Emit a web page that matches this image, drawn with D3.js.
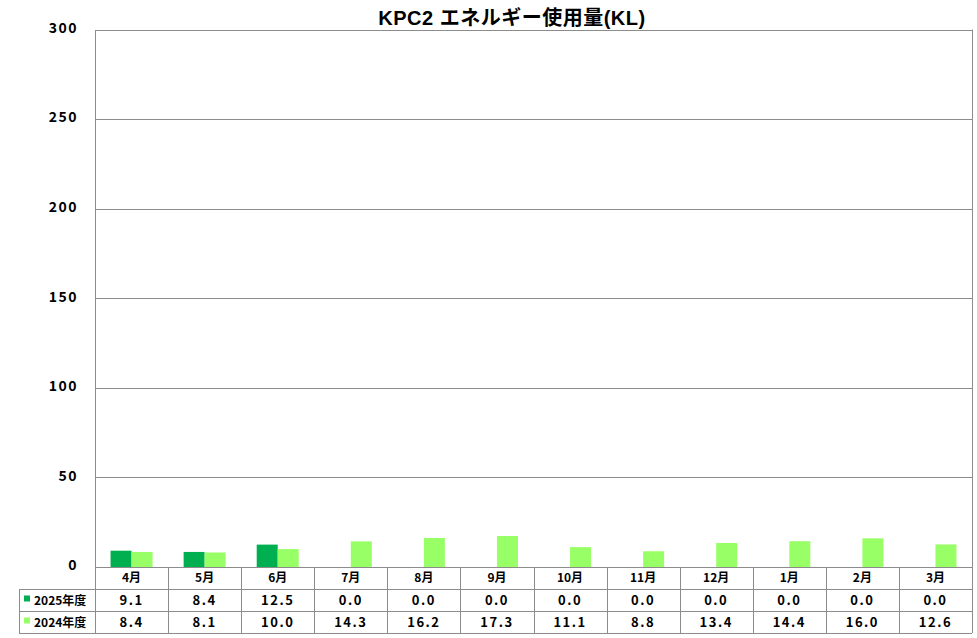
<!DOCTYPE html>
<html>
<head>
<meta charset="utf-8">
<script src="https://cdn.jsdelivr.net/npm/d3@7"></script>
<style>
  body { margin: 0; background: #fff; }
  text { font-family: "Noto Sans CJK JP", "Noto Sans", sans-serif; font-weight: 700; fill: #000; }
</style>
</head>
<body>
<div id="chart"></div>
<script>
// Chart data
const months = ["4月", "5月", "6月", "7月", "8月", "9月", "10月", "11月", "12月", "1月", "2月", "3月"];
const fy2025 = [9.1, 8.4, 12.5, 0.0, 0.0, 0.0, 0.0, 0.0, 0.0, 0.0, 0.0, 0.0];
const fy2024 = [8.4, 8.1, 10.0, 14.3, 16.2, 17.3, 11.1, 8.8, 13.4, 14.4, 16.0, 12.6];
const seriesNames = ["2025年度", "2024年度"];
const yTicks = [0, 50, 100, 150, 200, 250, 300];

const width = 977, height = 638;
const margin = { left: 95, right: 5, top: 29.5, plotBottom: 567 };
const rowH = 22;
const tableLeft = 19;
const colors = ["#00B050", "#99FF66"];
const gridColor = "#8c8c8c";

const svg = d3.select("#chart")
    .append("svg")
    .attr("width", width)
    .attr("height", height);

// Scales
const x = d3.scaleBand()
    .domain(months)
    .range([margin.left, width - margin.right]);

const y = d3.scaleLinear()
    .domain([0, 300])
    .range([margin.plotBottom, margin.top]);

const inner = d3.scaleBand()
    .domain(seriesNames)
    .range([0, 42]);

// Title
svg.append("text")
    .attr("x", 512)
    .attr("y", 25)
    .attr("text-anchor", "middle")
    .style("font-family", "\"Liberation Sans\", \"Noto Sans CJK JP\", sans-serif")
    .style("font-size", "20px")
    .style("letter-spacing", "0.5px")
    .text("KPC2 エネルギー使用量(KL)");

// Gridlines
svg.append("g")
    .selectAll("line")
    .data(yTicks)
    .enter()
    .append("line")
    .attr("x1", margin.left)
    .attr("x2", width - margin.right)
    .attr("y1", d => Math.round(y(d)) + 0.5)
    .attr("y2", d => Math.round(y(d)) + 0.5)
    .attr("stroke", gridColor)
    .attr("stroke-width", 1);

// Y axis with labels
const yAxis = d3.axisLeft(y)
    .tickValues(yTicks)
    .tickSize(0)
    .tickPadding(17);

const yg = svg.append("g")
    .attr("transform", `translate(${margin.left},0)`)
    .call(yAxis);
yg.select(".domain").attr("stroke", gridColor);
yg.selectAll("text")
    .style("font-size", "14px")
    .style("font-family", "\"Noto Sans CJK JP\", sans-serif")
    .style("font-weight", "700")
    .style("letter-spacing", "1.5px")
    .attr("dy", "0.2em");

// Plot right border
svg.append("line")
    .attr("x1", width - margin.right + 0.5)
    .attr("x2", width - margin.right + 0.5)
    .attr("y1", margin.top)
    .attr("y2", margin.plotBottom)
    .attr("stroke", gridColor);

// Bars
const series = [fy2025, fy2024];
series.forEach((vals, si) => {
    svg.append("g")
        .selectAll("rect")
        .data(vals)
        .enter()
        .append("rect")
        .attr("x", (d, i) => x(months[i]) + x.bandwidth() / 2 - 21 + inner(seriesNames[si]))
        .attr("width", inner.bandwidth())
        .attr("y", d => y(d))
        .attr("height", d => y(0) - y(d))
        .attr("fill", colors[si]);
});

// Data table
const tableTop = margin.plotBottom;
const table = svg.append("g");

// horizontal lines
[1, 2, 3].forEach(r => {
    table.append("line")
        .attr("x1", r === 1 ? margin.left : tableLeft)
        .attr("x2", width - margin.right)
        .attr("y1", tableTop + r * rowH + 0.5)
        .attr("y2", tableTop + r * rowH + 0.5)
        .attr("stroke", gridColor);
});
table.append("line")
    .attr("x1", tableLeft)
    .attr("x2", margin.left)
    .attr("y1", tableTop + rowH + 0.5)
    .attr("y2", tableTop + rowH + 0.5)
    .attr("stroke", gridColor);

// vertical lines
const colEdges = months.map(m => x(m)).concat([width - margin.right]);
table.selectAll(".vline")
    .data(colEdges)
    .enter()
    .append("line")
    .attr("x1", d => Math.round(d) + 0.5)
    .attr("x2", d => Math.round(d) + 0.5)
    .attr("y1", tableTop)
    .attr("y2", tableTop + 3 * rowH)
    .attr("stroke", gridColor);
table.append("line")
    .attr("x1", tableLeft + 0.5)
    .attr("x2", tableLeft + 0.5)
    .attr("y1", tableTop + rowH)
    .attr("y2", tableTop + 3 * rowH)
    .attr("stroke", gridColor);

// header row (months)
table.selectAll(".month")
    .data(months)
    .enter()
    .append("text")
    .attr("x", d => x(d) + x.bandwidth() / 2)
    .attr("y", tableTop + rowH / 2 + 4)
    .attr("text-anchor", "middle")
    .style("font-size", "12px")
    .text(d => d);

// value rows
series.forEach((vals, si) => {
    const rowY = tableTop + (si + 1) * rowH + rowH / 2 + 4.5;
    table.append("rect")
        .attr("x", 24)
        .attr("y", rowY - 9)
        .attr("width", 6)
        .attr("height", 6)
        .attr("fill", colors[si]);
    table.append("text")
        .attr("x", 34)
        .attr("y", rowY)
        .style("font-size", "12px")
        .text(seriesNames[si]);
    table.append("g")
        .selectAll("text")
        .data(vals)
        .enter()
        .append("text")
        .attr("x", (d, i) => x(months[i]) + x.bandwidth() / 2)
        .attr("y", rowY)
        .attr("text-anchor", "middle")
        .style("font-size", "13px")
        .style("letter-spacing", "1.5px")
        .text(d => d.toFixed(1));
});
</script>
</body>
</html>
